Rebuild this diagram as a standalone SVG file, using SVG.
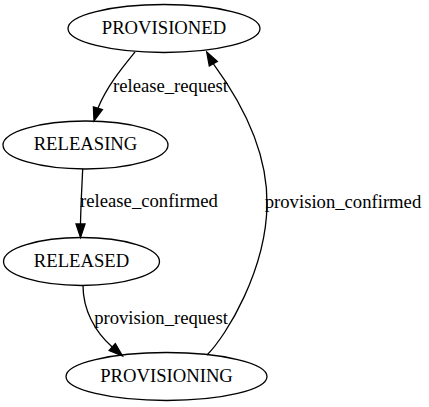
<svg xmlns="http://www.w3.org/2000/svg" width="429" height="407" viewBox="0 0 429 407">
<style>
.node ellipse{fill:none;stroke:#000;stroke-width:1.3}
text{font-family:"Liberation Serif","Times New Roman",serif;font-size:18.67px;fill:#000;text-anchor:middle}
.edge path{fill:none;stroke:#000;stroke-width:1.3}
.edge polygon{fill:#000;stroke:#000;stroke-width:1.3}
</style>
<rect width="429" height="407" fill="#fff"/>
<g id="PROVISIONED" class="node"><ellipse cx="164" cy="28.5" rx="96" ry="24"/><text x="164" y="33.5">PROVISIONED</text></g>
<g id="RELEASING" class="node"><ellipse cx="85.5" cy="145" rx="82.5" ry="24"/><text x="85.5" y="150">RELEASING</text></g>
<g id="RELEASED" class="node"><ellipse cx="81.5" cy="261.5" rx="78" ry="24"/><text x="81.5" y="266.5">RELEASED</text></g>
<g id="PROVISIONING" class="node"><ellipse cx="166.5" cy="376.5" rx="100.5" ry="24"/><text x="166.5" y="381.5">PROVISIONING</text></g>
<g id="connectors" class="edge">
<g id="e1"><path d="M135,52 C122,68 107,86 98,108"/><polygon points="102.4,109.6 94,121 93.4,107"/><text x="170.5" y="92">release_request</text></g>
<g id="e2"><path d="M82.7,169 C82,185 80.8,205 80.5,224"/><polygon points="85,224 80.5,237.5 76,224"/><text x="149" y="207">release_confirmed</text></g>
<g id="e3"><path d="M83,285.5 C83,310 95,332 112.2,347"/><polygon points="115.3,343.6 122.5,356 109.1,350.6"/><text x="161" y="324">provision_request</text></g>
<g id="e4"><path d="M207,355 C227,335 266,270 267,205 C268,150 240,100 213.4,63.8"/><polygon points="217.4,61.5 206.7,52 209.3,66.1"/><text x="343" y="208">provision_confirmed</text></g>
</g>
</svg>
